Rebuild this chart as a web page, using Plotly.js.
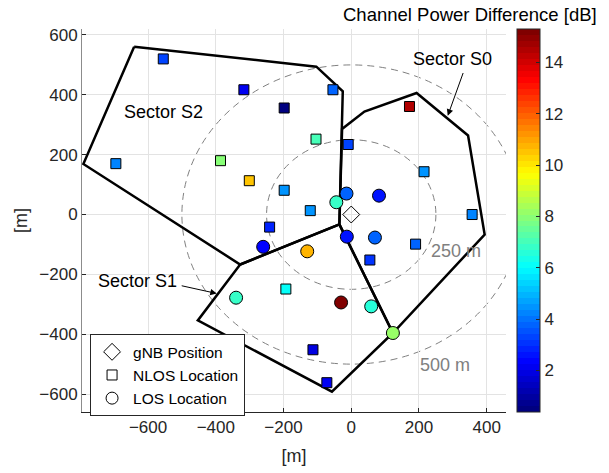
<!DOCTYPE html>
<html>
<head>
<meta charset="utf-8">
<script src="https://cdn.plot.ly/plotly-3.0.1.min.js"></script>
<style>
  html, body { margin: 0; padding: 0; background: #fff; }
  #chart { width: 609px; height: 473px; }
</style>
</head>
<body>
<div id="chart"></div>
<script>
// Sector boundaries [m]
const s0X = [-35, -27, 39, 193, 345, 394, 123, -35];
const s0Y = [-33, 286, 344, 406, 264, -67, -396, -33];
const s1X = [-35, -328, -453, -57, 123, -35];
const s1Y = [-33, -167, -354, -592, -396, -33];
const s2X = [-641, -103, -25, -35, -328, -791, -641];
const s2Y = [561, 494, 412, -33, -167, 169, 561];

// gNB location
const gnbX = [0];
const gnbY = [0];

// NLOS user locations and channel power difference [dB]
const nlosX = [-555, -317, -198, -695, -386, -301, -198, -121, -54, 172, -104, -9, 215, 357, 190, 55, -113, -72, -241, -193];
const nlosY = [520, 417, 356, 170, 180, 113, 81, 13, 417, 361, 252, 234, 143, 0, -99, -152, -452, -562, -42, -249];
const nlosDiff = [3.2, 2.2, 0.38, 4.3, 8.0, 10.6, 4.4, 4.4, 3.7, 14.6, 7.1, 3.3, 4.4, 4.3, 3.8, 3.0, 1.9, 2.1, 2.9, 6.0];

// LOS user locations and channel power difference [dB]
const losX = [-14, 82, -44, -13, 70, -130, -30, 59, 123, -260, -340];
const losY = [70, 63, 41, -74, -77, -123, -294, -307, -396, -108, -278];
const losDiff = [3.8, 2.5, 6.7, 2.6, 3.7, 10.7, 15.3, 6.5, 8.1, 2.4, 6.8];

// Reference range rings [m]
const ringRadii = [250, 500];
const ringLabels = ['250 m', '500 m'];
const ringLabelX = [308, 276];
const ringLabelY = [-123, -502];

const xTicks = [-600, -400, -200, 0, 200, 400];
const yTicks = [-600, -400, -200, 0, 200, 400, 600];
const cbTicks = [2, 4, 6, 8, 10, 12, 14];

const FONT = 'Liberation Sans, Arial, Helvetica, sans-serif';
const INK = '#262626';

// 64-level jet colormap
function jet(f) {
  const c = v => Math.round(255 * Math.max(0, Math.min(1, v)));
  return 'rgb(' + c(1.5 - Math.abs(4 * f - 3)) + ',' + c(1.5 - Math.abs(4 * f - 2)) + ',' + c(1.5 - Math.abs(4 * f - 1)) + ')';
}
const N = 64;
const jetScale = [];
for (let k = 0; k < N; k++) {
  const col = jet(k / (N - 1));
  jetScale.push([k / N, col]);
  jetScale.push([(k + 1) / N, col]);
}
const cmin = 0.38, cmax = 15.3;

const sectorLine = { color: '#000', width: 2.5 };
const traces = [
  { x: s0X, y: s0Y, mode: 'lines', line: sectorLine, showlegend: false, hoverinfo: 'skip' },
  { x: s1X, y: s1Y, mode: 'lines', line: sectorLine, showlegend: false, hoverinfo: 'skip' },
  { x: s2X, y: s2Y, mode: 'lines', line: sectorLine, showlegend: false, hoverinfo: 'skip' },
  {
    x: gnbX, y: gnbY, mode: 'markers', name: 'gNB Position',
    marker: { symbol: 'diamond-open', size: 13, color: '#000', line: { width: 1 } }
  },
  {
    x: [null], y: [null], mode: 'markers', name: 'NLOS Location',
    marker: { symbol: 'square-open', size: 10, color: '#000', line: { width: 1 } }
  },
  {
    x: [null], y: [null], mode: 'markers', name: 'LOS Location',
    marker: { symbol: 'circle-open', size: 12, color: '#000', line: { width: 1 } }
  },
  {
    x: nlosX, y: nlosY, mode: 'markers', showlegend: false,
    marker: {
      symbol: 'square', size: 10, color: nlosDiff, colorscale: jetScale, cmin: cmin, cmax: cmax,
      line: { color: '#000', width: 1 },
      showscale: true,
      colorbar: {
        x: 1.026, xanchor: 'left', xpad: 0, y: 0.5, yanchor: 'middle', ypad: 0,
        len: 1, lenmode: 'fraction', thickness: 23, thicknessmode: 'pixels',
        outlinecolor: INK, outlinewidth: 1,
        tickvals: cbTicks, ticks: 'inside', ticklen: 4, tickcolor: INK,
        tickfont: { family: FONT, size: 17, color: INK }
      }
    }
  },
  {
    x: losX, y: losY, mode: 'markers', showlegend: false,
    marker: {
      symbol: 'circle', size: 13, color: losDiff, colorscale: jetScale, cmin: cmin, cmax: cmax,
      line: { color: '#000', width: 1 }, showscale: false
    }
  }
];

const shapes = ringRadii.map(r => ({
  type: 'circle', xref: 'x', yref: 'y', x0: -r, x1: r, y0: -r, y1: r,
  line: { color: '#808080', width: 1, dash: '7px,5px' }, layer: 'below'
}));

const annotations = [
  { x: -554, y: 341, text: 'Sector S2', showarrow: false, font: { family: FONT, size: 18, color: '#000' } },
  { x: 300, y: 519, text: 'Sector S0', showarrow: false, font: { family: FONT, size: 18, color: '#000' } },
  { x: -630, y: -222, text: 'Sector S1', showarrow: false, font: { family: FONT, size: 18, color: '#000' } },
  { x: 285, y: 330, ax: 332, ay: 478, axref: 'x', ayref: 'y', text: '', showarrow: true,
    arrowhead: 2, arrowsize: 1.3, arrowwidth: 1, arrowcolor: '#000' },
  { x: -397, y: -264, ax: -505, ay: -237, axref: 'x', ayref: 'y', text: '', showarrow: true,
    arrowhead: 2, arrowsize: 1.3, arrowwidth: 1, arrowcolor: '#000' },
  { xref: 'paper', yref: 'paper', x: 0.914, y: 1.039, xanchor: 'center', yanchor: 'middle',
    text: 'Channel Power Difference [dB]', showarrow: false, font: { family: FONT, size: 18.5, color: '#000' } }
];
ringLabels.forEach((t, i) => annotations.push({
  x: ringLabelX[i], y: ringLabelY[i], text: t, showarrow: false,
  font: { family: FONT, size: 18, color: '#808080' }
}));

const layout = {
  width: 609, height: 473,
  margin: { l: 82, r: 103, t: 29, b: 61, pad: 0 },
  paper_bgcolor: '#fff', plot_bgcolor: '#fff',
  font: { family: FONT, color: INK },
  showlegend: true,
  legend: {
    x: 0.019, y: 0.203, xanchor: 'left', yanchor: 'top',
    bgcolor: '#fff', bordercolor: INK, borderwidth: 1,
    font: { family: FONT, size: 15.5, color: '#000' },
    itemwidth: 32, traceorder: 'normal'
  },
  xaxis: {
    range: [-795, 457], tickvals: xTicks, showgrid: true, gridcolor: '#e3e3e3', gridwidth: 1,
    zeroline: false, showline: true, linecolor: INK, linewidth: 1, mirror: false,
    ticks: 'inside', ticklen: 4, tickcolor: INK,
    tickfont: { family: FONT, size: 17, color: INK }, automargin: false,
    title: { text: '[m]', font: { family: FONT, size: 18, color: INK }, standoff: 12 }
  },
  yaxis: {
    range: [-660, 620], tickvals: yTicks, showgrid: true, gridcolor: '#e3e3e3', gridwidth: 1,
    zeroline: false, showline: true, linecolor: '#8c8c8c', linewidth: 1, mirror: false,
    ticks: 'inside', ticklen: 4, tickcolor: INK,
    tickfont: { family: FONT, size: 17, color: INK }, automargin: false,
    title: { text: '[m]', font: { family: FONT, size: 18, color: INK }, standoff: 7 }
  },
  shapes: shapes,
  annotations: annotations
};

Plotly.newPlot('chart', traces, layout, { displayModeBar: false, staticPlot: true });
</script>
</body>
</html>
